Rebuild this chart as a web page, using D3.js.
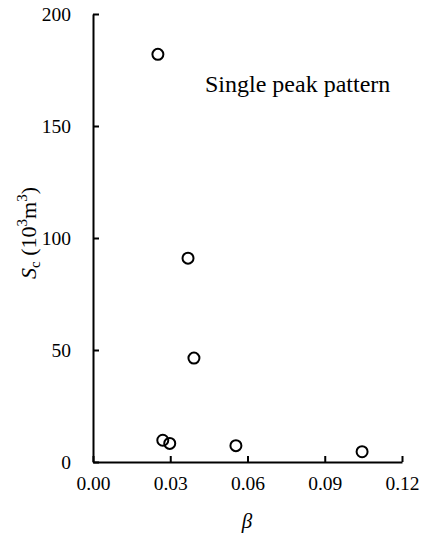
<!DOCTYPE html>
<html>
<head>
<meta charset="utf-8">
<script src="https://cdn.jsdelivr.net/npm/d3@7"></script>
<style>
  html, body { margin: 0; padding: 0; background: #fff; }
  svg { display: block; }
  svg text { font-family: "Liberation Serif", "Times New Roman", serif; fill: #000; }
</style>
</head>
<body>
<svg id="chart" width="430" height="535"></svg>
<script>
// Critical storage volume versus beta, single peak pattern
const beta = [0.0252, 0.0369, 0.0392, 0.0271, 0.0298, 0.0555, 0.1045];
const storage = [182, 91, 46.4, 9.7, 8.3, 7.3, 4.6];
const xTicks = [0, 0.03, 0.06, 0.09, 0.12];
const yTicks = [0, 50, 100, 150, 200];

const svg = d3.select("#chart");
const x = d3.scaleLinear().domain([0, 0.12]).range([93, 402]);
const y = d3.scaleLinear().domain([0, 200]).range([462, 14]);

const xAxis = svg.append("g")
  .attr("transform", `translate(0,${y(0)})`)
  .call(d3.axisBottom(x).tickValues(xTicks).tickFormat(d3.format(".2f"))
    .tickSizeInner(-6).tickSizeOuter(0).tickPadding(14));
const yAxis = svg.append("g")
  .attr("transform", `translate(${x(0)},0)`)
  .call(d3.axisLeft(y).tickValues(yTicks).tickFormat(d3.format("d"))
    .tickSizeInner(-6).tickSizeOuter(0).tickPadding(22));

[xAxis, yAxis].forEach(g => {
  g.attr("font-family", "Liberation Serif, serif").attr("font-size", 19.5);
  g.select(".domain").attr("stroke", "#000").attr("stroke-width", 2);
  g.selectAll(".tick line").attr("stroke", "#000").attr("stroke-width", 2);
  g.selectAll(".tick text").attr("fill", "#000");
});
xAxis.selectAll(".tick text").attr("dy", "0.71em");

svg.append("g").selectAll("circle")
  .data(beta.map((b, i) => [b, storage[i]]))
  .join("circle")
  .attr("cx", d => x(d[0]))
  .attr("cy", d => y(d[1]))
  .attr("r", 5.5)
  .attr("fill", "none")
  .attr("stroke", "#000")
  .attr("stroke-width", 2);

svg.append("text")
  .attr("x", 205).attr("y", 92)
  .style("font-size", "24px")
  .text("Single peak pattern");

svg.append("text")
  .attr("x", 247).attr("y", 528)
  .attr("text-anchor", "middle")
  .style("font-size", "21px").style("font-style", "italic")
  .text("β");

const yl = svg.append("text")
  .attr("transform", "translate(36,233) rotate(-90)")
  .attr("text-anchor", "middle")
  .style("font-size", "22px");
yl.append("tspan").style("font-style", "italic").text("S");
yl.append("tspan").attr("dy", 4).style("font-size", "15px").text("c");
yl.append("tspan").attr("dy", -4).text(" (10");
yl.append("tspan").attr("dy", -9).style("font-size", "15px").text("3");
yl.append("tspan").attr("dy", 9).text("m");
yl.append("tspan").attr("dy", -9).style("font-size", "15px").text("3");
yl.append("tspan").attr("dy", 9).text(")");
</script>
</body>
</html>
